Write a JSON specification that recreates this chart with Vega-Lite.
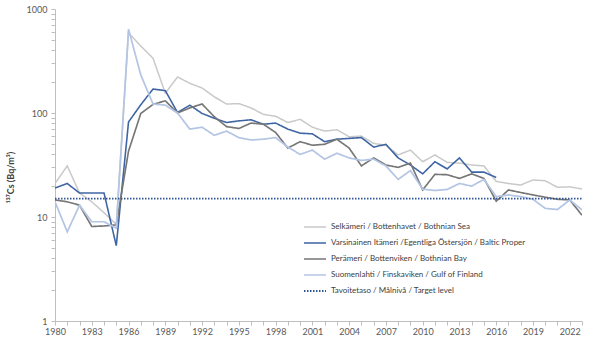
{
  "$schema": "https://vega.github.io/schema/vega-lite/v6.json",
  "width": 527,
  "height": 312,
  "autosize": "none",
  "padding": {"left": 55, "top": 9, "right": 10, "bottom": 29},
  "config": {
    "view": {"stroke": null},
    "font": "Lato",
    "axis": {"labelFont": "Lato", "titleFont": "Lato", "labelColor": "#595959", "labelFontSize": 9, "domainColor": "#bfbfbf", "tickColor": "#bfbfbf", "grid": false}
  },
  "data": {
    "values": [
      {"year": 1980, "series": "S", "value": 21}, {"year": 1981, "series": "S", "value": 31}, {"year": 1982, "series": "S", "value": 17}, {"year": 1983, "series": "S", "value": 14}, {"year": 1984, "series": "S", "value": 11}, {"year": 1985, "series": "S", "value": 8.5}, {"year": 1986, "series": "S", "value": 590}, {"year": 1987, "series": "S", "value": 440}, {"year": 1988, "series": "S", "value": 336}, {"year": 1989, "series": "S", "value": 155}, {"year": 1990, "series": "S", "value": 222}, {"year": 1991, "series": "S", "value": 193}, {"year": 1992, "series": "S", "value": 174}, {"year": 1993, "series": "S", "value": 143}, {"year": 1994, "series": "S", "value": 122}, {"year": 1995, "series": "S", "value": 123}, {"year": 1996, "series": "S", "value": 112}, {"year": 1997, "series": "S", "value": 97}, {"year": 1998, "series": "S", "value": 93}, {"year": 1999, "series": "S", "value": 81}, {"year": 2000, "series": "S", "value": 87}, {"year": 2001, "series": "S", "value": 73}, {"year": 2002, "series": "S", "value": 67}, {"year": 2003, "series": "S", "value": 69}, {"year": 2004, "series": "S", "value": 59}, {"year": 2005, "series": "S", "value": 60}, {"year": 2006, "series": "S", "value": 51}, {"year": 2007, "series": "S", "value": 49}, {"year": 2008, "series": "S", "value": 39.5}, {"year": 2009, "series": "S", "value": 44}, {"year": 2010, "series": "S", "value": 34}, {"year": 2011, "series": "S", "value": 39.5}, {"year": 2012, "series": "S", "value": 33.5}, {"year": 2013, "series": "S", "value": 33}, {"year": 2014, "series": "S", "value": 31.6}, {"year": 2015, "series": "S", "value": 31}, {"year": 2016, "series": "S", "value": 22}, {"year": 2017, "series": "S", "value": 21}, {"year": 2018, "series": "S", "value": 20.3}, {"year": 2019, "series": "S", "value": 22.7}, {"year": 2020, "series": "S", "value": 22.3}, {"year": 2021, "series": "S", "value": 19.3}, {"year": 2022, "series": "S", "value": 19.5}, {"year": 2023, "series": "S", "value": 18.6},
      {"year": 1980, "series": "B", "value": 19}, {"year": 1981, "series": "B", "value": 21}, {"year": 1982, "series": "B", "value": 17}, {"year": 1983, "series": "B", "value": 17}, {"year": 1984, "series": "B", "value": 17}, {"year": 1985, "series": "B", "value": 5.3}, {"year": 1986, "series": "B", "value": 82}, {"year": 1987, "series": "B", "value": 120}, {"year": 1988, "series": "B", "value": 170}, {"year": 1989, "series": "B", "value": 164}, {"year": 1990, "series": "B", "value": 101}, {"year": 1991, "series": "B", "value": 119}, {"year": 1992, "series": "B", "value": 99}, {"year": 1993, "series": "B", "value": 89}, {"year": 1994, "series": "B", "value": 81}, {"year": 1995, "series": "B", "value": 84}, {"year": 1996, "series": "B", "value": 86}, {"year": 1997, "series": "B", "value": 78}, {"year": 1998, "series": "B", "value": 80}, {"year": 1999, "series": "B", "value": 70}, {"year": 2000, "series": "B", "value": 64}, {"year": 2001, "series": "B", "value": 63}, {"year": 2002, "series": "B", "value": 53}, {"year": 2003, "series": "B", "value": 56}, {"year": 2004, "series": "B", "value": 57}, {"year": 2005, "series": "B", "value": 58}, {"year": 2006, "series": "B", "value": 47}, {"year": 2007, "series": "B", "value": 50}, {"year": 2008, "series": "B", "value": 37}, {"year": 2009, "series": "B", "value": 31.6}, {"year": 2010, "series": "B", "value": 26}, {"year": 2011, "series": "B", "value": 34}, {"year": 2012, "series": "B", "value": 29}, {"year": 2013, "series": "B", "value": 37}, {"year": 2014, "series": "B", "value": 27}, {"year": 2015, "series": "B", "value": 27}, {"year": 2016, "series": "B", "value": 24},
      {"year": 1980, "series": "P", "value": 14.6}, {"year": 1981, "series": "P", "value": 14}, {"year": 1982, "series": "P", "value": 13}, {"year": 1983, "series": "P", "value": 8.1}, {"year": 1984, "series": "P", "value": 8.2}, {"year": 1985, "series": "P", "value": 8.4}, {"year": 1986, "series": "P", "value": 43}, {"year": 1987, "series": "P", "value": 99}, {"year": 1988, "series": "P", "value": 121}, {"year": 1989, "series": "P", "value": 131}, {"year": 1990, "series": "P", "value": 100}, {"year": 1991, "series": "P", "value": 112}, {"year": 1992, "series": "P", "value": 122}, {"year": 1993, "series": "P", "value": 92}, {"year": 1994, "series": "P", "value": 74}, {"year": 1995, "series": "P", "value": 71}, {"year": 1996, "series": "P", "value": 80}, {"year": 1997, "series": "P", "value": 78}, {"year": 1998, "series": "P", "value": 65}, {"year": 1999, "series": "P", "value": 46}, {"year": 2000, "series": "P", "value": 53}, {"year": 2001, "series": "P", "value": 49}, {"year": 2002, "series": "P", "value": 50}, {"year": 2003, "series": "P", "value": 56}, {"year": 2004, "series": "P", "value": 46}, {"year": 2005, "series": "P", "value": 31}, {"year": 2006, "series": "P", "value": 37}, {"year": 2007, "series": "P", "value": 31.6}, {"year": 2008, "series": "P", "value": 30}, {"year": 2009, "series": "P", "value": 33}, {"year": 2010, "series": "P", "value": 18.2}, {"year": 2011, "series": "P", "value": 25.7}, {"year": 2012, "series": "P", "value": 25.5}, {"year": 2013, "series": "P", "value": 23.5}, {"year": 2014, "series": "P", "value": 26}, {"year": 2015, "series": "P", "value": 23.5}, {"year": 2016, "series": "P", "value": 14.2}, {"year": 2017, "series": "P", "value": 18.2}, {"year": 2018, "series": "P", "value": 17.2}, {"year": 2019, "series": "P", "value": 16.3}, {"year": 2020, "series": "P", "value": 15.5}, {"year": 2021, "series": "P", "value": 14.8}, {"year": 2022, "series": "P", "value": 14.6}, {"year": 2023, "series": "P", "value": 10.4},
      {"year": 1980, "series": "G", "value": 14}, {"year": 1981, "series": "G", "value": 7.2}, {"year": 1982, "series": "G", "value": 13}, {"year": 1983, "series": "G", "value": 9}, {"year": 1984, "series": "G", "value": 9}, {"year": 1985, "series": "G", "value": 7.8}, {"year": 1986, "series": "G", "value": 640}, {"year": 1987, "series": "G", "value": 232}, {"year": 1988, "series": "G", "value": 122}, {"year": 1989, "series": "G", "value": 119}, {"year": 1990, "series": "G", "value": 100}, {"year": 1991, "series": "G", "value": 70}, {"year": 1992, "series": "G", "value": 73}, {"year": 1993, "series": "G", "value": 61}, {"year": 1994, "series": "G", "value": 67}, {"year": 1995, "series": "G", "value": 58}, {"year": 1996, "series": "G", "value": 55}, {"year": 1997, "series": "G", "value": 56}, {"year": 1998, "series": "G", "value": 58}, {"year": 1999, "series": "G", "value": 47}, {"year": 2000, "series": "G", "value": 40}, {"year": 2001, "series": "G", "value": 44}, {"year": 2002, "series": "G", "value": 36}, {"year": 2003, "series": "G", "value": 41}, {"year": 2004, "series": "G", "value": 37}, {"year": 2005, "series": "G", "value": 35}, {"year": 2006, "series": "G", "value": 36}, {"year": 2007, "series": "G", "value": 31}, {"year": 2008, "series": "G", "value": 23}, {"year": 2009, "series": "G", "value": 28}, {"year": 2010, "series": "G", "value": 18.5}, {"year": 2011, "series": "G", "value": 18}, {"year": 2012, "series": "G", "value": 18.4}, {"year": 2013, "series": "G", "value": 21}, {"year": 2014, "series": "G", "value": 19.8}, {"year": 2015, "series": "G", "value": 23}, {"year": 2016, "series": "G", "value": 15.7}, {"year": 2017, "series": "G", "value": 16.3}, {"year": 2018, "series": "G", "value": 15.7}, {"year": 2019, "series": "G", "value": 14.8}, {"year": 2020, "series": "G", "value": 12.1}, {"year": 2021, "series": "G", "value": 11.8}, {"year": 2022, "series": "G", "value": 14.6}, {"year": 2023, "series": "G", "value": 11.7},
      {"year": 1980, "series": "T", "value": 15}, {"year": 2023, "series": "T", "value": 15}
    ]
  },
  "mark": {"type": "line", "clip": true},
  "encoding": {
    "x": {
      "field": "year", "type": "quantitative",
      "scale": {"domain": [1980, 2023], "nice": false, "zero": false},
      "axis": {
        "title": null,
        "values": [1980,1981,1982,1983,1984,1985,1986,1987,1988,1989,1990,1991,1992,1993,1994,1995,1996,1997,1998,1999,2000,2001,2002,2003,2004,2005,2006,2007,2008,2009,2010,2011,2012,2013,2014,2015,2016,2017,2018,2019,2020,2021,2022,2023],
        "labelExpr": "(datum.value - 1980) % 3 == 0 ? datum.value + '' : ''",
        "tickSize": 4, "labelPadding": 2, "labelFlush": false, "labelOverlap": false
      }
    },
    "y": {
      "field": "value", "type": "quantitative",
      "scale": {"type": "log", "domain": [1, 1000], "nice": false},
      "axis": {
        "title": "¹³⁷Cs (Bq/m³)",
        "titleFontSize": 9, "titleFontWeight": "bold", "titleColor": "#404040",
        "titleX": -45, "titleY": 168, "titleAngle": 270, "titleAlign": "center", "titleBaseline": "middle",
        "values": [1,2,3,4,5,6,7,8,9,10,20,30,40,50,60,70,80,90,100,200,300,400,500,600,700,800,900,1000],
        "labelExpr": "indexof([1,10,100,1000], datum.value) >= 0 ? datum.value + '' : ''",
        "tickSize": 4, "labelPadding": 4, "labelOverlap": false
      }
    },
    "color": {
      "field": "series", "type": "nominal",
      "scale": {
        "domain": ["S", "B", "P", "G", "T"],
        "range": ["#c9c9c9", "#3d64a3", "#767676", "#b4c5e4", "#2f5597"]
      },
      "legend": {
        "title": null,
        "orient": "none", "legendX": 248, "legendY": 206,
        "symbolType": "stroke", "symbolSize": 484, "symbolStrokeWidth": 1.5,
        "labelFontSize": 8, "labelColor": "#404040", "labelLimit": 320, "rowPadding": -7,
        "labelExpr": "{'S': 'Selkämeri / Bottenhavet / Bothnian Sea', 'B': 'Varsinainen Itämeri /Egentliga Östersjön / Baltic Proper', 'P': 'Perämeri / Bottenviken / Bothnian Bay', 'G': 'Suomenlahti / Finskaviken / Gulf of Finland', 'T': 'Tavoitetaso / Målnivå / Target level'}[datum.value]"
      }
    },
    "strokeDash": {
      "field": "series", "type": "nominal",
      "scale": {"domain": ["S", "B", "P", "G", "T"], "range": [[1,0],[1,0],[1,0],[1,0],[1.5,1.5]]},
      "legend": null
    },
    "strokeWidth": {
      "field": "series", "type": "nominal",
      "scale": {"domain": ["S", "B", "P", "G", "T"], "range": [1.5, 1.8, 1.5, 1.5, 1.2]},
      "legend": null
    }
  }
}
